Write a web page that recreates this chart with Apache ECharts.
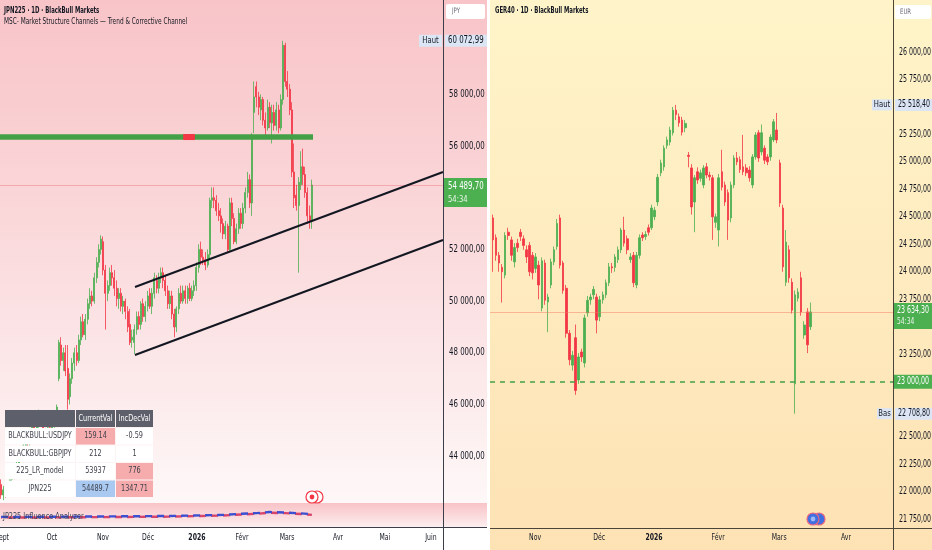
<!DOCTYPE html>
<html><head><meta charset="utf-8">
<script src="https://cdn.jsdelivr.net/npm/echarts@6/dist/echarts.min.js"></script>
<style>html,body{margin:0;padding:0;background:#fff}#c{width:932px;height:550px}</style>
</head><body><div id="c"></div>
<script>
const FONT = '"DejaVu Sans Condensed","DejaVu Sans",sans-serif';

// ---------- axis tick labels ----------
const monthLabelsL = ['Sept','Oct','Nov','Déc','2026','Févr','Mars','Avr','Mai','Juin'];
const monthPosL    = [0.4, 22.9, 45.9, 66.2, 88.2, 108.5, 128.8, 151.8, 172.9, 193.6];
const monthLabelsR = ['Nov','Déc','2026','Févr','Mars','Avr'];
const monthPosR    = [13.8, 34.8, 52.8, 73.8, 93.8, 115.7];
const priceTicksL  = [44000,46000,48000,50000,52000,56000,58000];
const priceTicksR  = [21750,22000,22250,22500,23250,23750,24000,24250,24500,24750,25000,25250,25750,26000];

// ---------- JPN225 daily candles [open, close, low, high] ----------
const jpn = [
[42900,42500,42350,43100],[42500,42700,42300,42850],[42700,42550,42400,42800],[42550,42750,42450,42900],
[42750,43100,42650,43250],[43100,43400,43000,43550],[43400,43300,43100,43600],[43300,43700,43200,43850],
[43700,44100,43600,44250],[44100,44000,43800,44300],[44000,44400,43900,44550],[44400,44700,44300,44850],
[44700,44500,44300,44800],[44500,44900,44400,45100],[44900,45200,44800,45400],[45200,44900,44700,45300],
[44900,45300,44800,45500],[45300,45600,45100,45800],[45600,45400,45200,45700],[45400,45000,44800,45500],
[45000,44800,44600,45100],[44800,45100,44600,45300],[45100,44900,44700,45200],[44900,45200,44800,45400],
[45200,45500,45100,45700],[45500,45900,45400,46000],[47000,48400,46900,48500],[48300,47700,47500,48600],
[47700,48000,47300,48200],[48000,47300,47100,48300],[47400,46200,45800,48300],[46300,47000,46000,47200],
[47000,47600,46800,47800],[47600,48000,47300,48200],[48000,47700,47500,48300],[47700,48500,47600,48700],
[48500,49200,48300,49400],[49200,48700,48600,49500],[48700,49300,48500,49500],[49300,49900,49100,50100],
[49900,50200,49700,50500],[50200,50000,49800,50400],[50000,50900,49900,51100],[50900,51500,50700,51700],
[51500,52000,51300,52200],[52000,52400,51800,52550],[52300,51200,51000,52500],[51200,50300,48900,51400],
[50300,50600,50000,50800],[50600,51100,50400,51300],[51100,50900,50600,51400],[50900,50500,50200,51200],
[50500,50100,49800,50800],[50100,50300,49700,50500],[50300,49800,49600,50500],[49800,50000,49500,50200],
[50000,49600,49300,50100],[49600,49000,48800,49800],[49100,48400,48300,49700],[48500,48600,48200,48900],
[48400,48900,47950,49100],[48900,49400,48700,49600],[49400,49100,48900,49600],[49100,49900,48900,50000],
[49900,49400,49200,50100],[49400,49800,49200,50000],[49800,50200,49600,50400],[50300,49800,49700,50500],
[49800,50300,49500,50500],[50300,50900,50100,51100],[50800,50500,50300,51000],[50500,50900,50300,51100],
[50900,51100,50700,51300],[51100,50800,50500,51300],[50800,50400,50200,51000],[50400,49900,49700,50600],
[49900,50200,49700,50400],[50200,49500,49300,50400],[49500,49000,48600,49700],[49000,49700,48800,49800],
[49700,50300,49500,50500],[50300,50000,49900,50600],[50000,50400,49900,50600],[50400,50100,49900,50600],
[50100,50500,49900,50600],[50500,50100,50000,50700],[50100,50400,50000,50600],[50400,50600,50200,50800],
[50600,51300,50400,51500],[51300,52000,51100,52200],[52000,51700,51400,52300],[51700,51600,51400,52000],
[51600,51400,51200,51900],[51400,51800,51300,52000],[51800,53900,51600,54000],[53900,54000,53600,54400],
[54000,53900,53600,54400],[53900,53500,53300,54100],[53500,53300,53100,53800],[53300,53000,52650,53600],
[53000,52600,52400,53200],[52600,52900,52400,53100],[52900,52000,51900,53000],[52000,53800,51900,54000],
[53800,53200,52900,54000],[53200,52300,52200,53400],[52300,52800,52200,53000],[52800,53400,52600,53600],
[53400,53000,52800,53600],[53000,53600,52800,53800],[53600,54200,53400,54400],[54200,54700,54000,55000],
[54700,53800,53600,54900],[53800,56300,53300,56500],[57300,57900,56500,58500],[58300,57900,57500,58500],
[57900,57500,57200,58100],[57400,57800,57000,58000],[57800,57000,56800,57900],[57000,56700,56400,57300],
[56700,57500,56600,57800],[57500,56900,56700,57700],[56900,57300,56100,57600],[57300,56800,56600,57600],
[56800,57400,56600,57700],[57400,56700,56500,57600],[56700,57800,56600,58000],[57800,59900,57600,60072.99],
[59900,58500,58300,60000],[58500,58200,57900,58900],[58200,57400,57200,58400],[57400,55000,54800,57700],
[55000,54000,53600,56100],[54100,53700,53500,54500],[53700,54600,51100,54800],[54500,55200,54300,55800],
[55200,54900,54500,55900],[54900,54200,54000,55200],[54200,53300,53000,54400],[53300,53100,52800,53700],
[53100,54489.7,52800,54700]
];

// ---------- GER40 daily candles [open, close, low, high] ----------
const ger = [
[24490,24290,24000,24520],[24310,24150,24100,24340],[24150,24080,24000,24180],[24040,24000,23720,24070],
[23970,24330,23940,24360],[24360,24330,24290,24400],[24290,24150,24100,24320],[24090,24220,24040,24260],
[24260,24220,24180,24300],[24360,24320,24280,24390],[24300,24240,24200,24330],[24200,24135,24080,24240],
[24240,24000,23960,24270],[24150,23990,23930,24180],[24030,24135,23990,24170],[24060,23880,23750,24100],
[23670,24100,23640,24130],[24080,23740,23700,24110],[23725,23770,23450,23800],[23880,24090,23850,24120],
[24090,24200,24060,24230],[24230,24440,24200,24480],[24490,24060,24030,24520],[24080,23830,23800,24100],
[23850,23440,23400,23880],[23440,23200,23150,23470],[23150,23240,23100,23280],[23400,22920,22880,23520],
[23015,23225,22980,23260],[23270,23225,23180,23300],[23170,23580,23130,23610],[23625,23740,23590,23780],
[23745,23770,23700,23800],[23790,23840,23750,23870],[23770,23560,23440,23800],[23590,23745,23550,23780],
[23745,23790,23710,23820],[23790,23900,23760,23930],[23900,24045,23870,24080],[24045,24035,23990,24080],
[24040,24135,24000,24160],[24110,24200,24080,24230],[24200,24380,24170,24400],[24380,24260,24230,24500],
[24300,24200,24160,24330],[24110,24135,24080,24170],[24150,23900,23860,24180],[23880,24150,23850,24180],
[24150,24310,24120,24340],[24335,24310,24280,24360],[24320,24340,24290,24370],[24400,24360,24330,24430],
[24400,24580,24380,24610],[24500,24560,24470,24590],[24635,24860,24600,24890],[24900,24990,24870,25020],
[24955,25125,24920,25150],[25150,25200,25120,25230],[25180,25290,25150,25320],[25265,25470,25240,25500],
[25470,25430,25380,25518.4],[25410,25355,25320,25440],[25380,25270,25240,25410],[25310,25350,25270,25380],
[25060,25050,24950,25090],[24945,24590,24520,24980],[24635,24855,24360,24880],[24910,24835,24800,24950],
[24850,24900,24820,24930],[24790,24945,24760,24970],[24955,24880,24850,24990],[24880,24865,24830,24910],
[24855,24500,24290,24880],[24450,24500,24400,24530],[24380,24855,24230,24890],[24910,24770,24740,25110],
[24790,24635,24600,24820],[24720,24470,24290,24750],[24490,24790,24450,24820],[24790,25035,24760,25060],
[25035,25000,24970,25090],[25020,24930,24900,25050],[24955,24910,24880,25245],[24945,24900,24870,24980],
[24925,24855,24820,24960],[24790,25045,24760,25070],[25045,25245,25020,25270],[25265,25035,25000,25290],
[25090,25265,25060,25340],[25125,25015,24980,25150],[25045,25000,24970,25070],[25045,25225,25010,25250],
[25200,25365,25180,25390],[25290,25200,25170,25445],[24990,24625,24590,25020],[24580,24045,24000,24610],
[23905,24270,23870,24380],[24200,23945,23900,24240],[23905,23650,23620,23940],[22980,23790,22708.8,23830],
[23760,23815,23730,23850],[23945,23635,23600,24000],[23425,23515,23390,23550],[23635,23335,23260,23670],
[23500,23634.3,23470,23720]
];

// ---------- drawn levels (data coordinates: [bar, price]) ----------
const channelUpper   = [[60.3, 50546], [199.05, 54997]];
const channelLower   = [[60.3, 47917], [199.05, 52365]];
const structureLine  = [[-0.5, 56350], [140.5, 56350]];
const structureBreak = [[82, 56350], [87.3, 56350]];
const lastJPN = 54489.7, highJPN = 60072.99;
const lastGER = 23634.3, highGER = 25518.4, lowGER = 22708.8, levelGER = 23000;
const countdown = '54:34';

// indicator pane (JP225 Influence Analyzer)
const indBars = [0, 15, 30, 45, 60, 75, 90, 100, 108, 115, 121, 128, 135, 140];
const indBlue = [4.6, 4.6, 4.7, 4.8, 4.9, 5.0, 5.3, 5.5, 6.0, 6.3, 6.8, 6.6, 6.2, 5.8];
const indRed  = [4.3, 4.3, 4.4, 4.5, 4.6, 4.7, 5.0, 5.2, 5.7, 6.0, 6.5, 6.3, 5.9, 5.5];

// table
const tableHeader = ['', 'CurrentVal', 'IncDecVal'];
const tableRows = [
  ['BLACKBULL:USDJPY', '159.14', '-0.59'],
  ['BLACKBULL:GBPJPY', '212', '1'],
  ['225_LR_model', '53937', '776'],
  ['JPN225', '54489.7', '1347.71']
];
const tableFill = [[null,'#f6abad',null],[null,null,null],[null,null,'#f6abad'],[null,'#a9c9f1','#f6abad']];

function fr(v){
  const neg = v < 0;
  const p = Math.abs(v).toFixed(2).split('.');
  return (neg?'-':'') + p[0].replace(/\B(?=(\d{3})+(?!\d))/g, ' ') + ',' + p[1];
}

const chart = echarts.init(document.getElementById('c'), null, {renderer:'canvas'});
const hidden = {axisLine:{show:false}, axisTick:{show:false}, splitLine:{show:false}, axisLabel:{show:false}};
const option = {
  animation:false,
  textStyle:{fontFamily:FONT},
  grid:[
    {left:0, top:0, width:443, height:505, outerBoundsMode:'none', containLabel:false},
    {left:0, top:505, width:443, height:22, outerBoundsMode:'none', containLabel:false},
    {left:490, top:0, width:403, height:527, outerBoundsMode:'none', containLabel:false}
  ],
  xAxis:[
    Object.assign({gridIndex:0, type:'value', min:-0.5, max:199.05}, hidden),
    Object.assign({gridIndex:1, type:'value', min:-0.5, max:199.05}, hidden),
    Object.assign({gridIndex:2, type:'value', min:-0.98, max:131.1}, hidden)
  ],
  yAxis:[
    Object.assign({gridIndex:0, type:'value', position:'right', min:42110, max:61653}, hidden),
    Object.assign({gridIndex:1, type:'value', min:0, max:10}, hidden),
    Object.assign({gridIndex:2, type:'value', position:'right', min:21677.5, max:26473}, hidden)
  ],
  series:[
    {type:'candlestick', xAxisIndex:0, yAxisIndex:0, barWidth:1.5,
     data: jpn.map((r,i)=>[i, r[0], r[1], r[2], r[3]]),
     itemStyle:{color:'#4caf50', color0:'#f23645', borderColor:'#4caf50', borderColor0:'#f23645', borderWidth:0.8},
     markLine:{silent:true, symbol:['none','none'], label:{show:false},
       data:[{yAxis:lastJPN, lineStyle:{color:'rgba(242,54,69,0.28)', width:1, type:'solid'}}]}},
    {type:'line', xAxisIndex:0, yAxisIndex:0, data:structureLine, symbol:'none',
     lineStyle:{color:'#43a047', width:5.5}, z:3},
    {type:'line', xAxisIndex:0, yAxisIndex:0, data:structureBreak, symbol:'none',
     lineStyle:{color:'#f23645', width:6}, z:4},
    {type:'line', xAxisIndex:0, yAxisIndex:0, data:channelUpper, symbol:'none',
     lineStyle:{color:'#131722', width:2}, z:5},
    {type:'line', xAxisIndex:0, yAxisIndex:0, data:channelLower, symbol:'none',
     lineStyle:{color:'#131722', width:2}, z:5},
    {type:'line', xAxisIndex:1, yAxisIndex:1, data:indBars.map((b,i)=>[b, indRed[i]]), symbol:'none',
     lineStyle:{color:'#d9456a', width:2.4, type:[7,5], dashOffset:6}},
    {type:'line', xAxisIndex:1, yAxisIndex:1, data:indBars.map((b,i)=>[b, indBlue[i]]), symbol:'none',
     lineStyle:{color:'#3d4fd1', width:2.4, type:[7,5]}},
    {type:'candlestick', xAxisIndex:2, yAxisIndex:2, barWidth:2.1,
     data: ger.map((r,i)=>[i, r[0], r[1], r[2], r[3]]),
     itemStyle:{color:'#4caf50', color0:'#f23645', borderColor:'#4caf50', borderColor0:'#f23645', borderWidth:0.8},
     markLine:{silent:true, symbol:['none','none'], label:{show:false},
       data:[
         {yAxis:lastGER, lineStyle:{color:'rgba(240,120,90,0.45)', width:1, type:'solid'}},
         {yAxis:levelGER, lineStyle:{color:'#43a047', width:1.5, type:[5,5]}}
       ]}}
  ]
};
chart.setOption(option);

// ---------- overlay graphics ----------
const G = [];
function font(sz, bold){ return (bold?'bold ':'') + sz + 'px ' + FONT; }
function rect(x,y,w,h,fill,z,r){ G.push({type:'rect', shape:{x,y,width:w,height:h,r:r||0}, style:{fill}, z:z===undefined?100:z, silent:true}); }
function text(x,y,t,opt){ opt=opt||{}; G.push({type:'text', x, y, scaleX:opt.sx||0.8, z:opt.z||101, silent:true,
  style:{text:t, x:0, y:0, fill:opt.fill||'#131722', font:font(opt.size||9, opt.bold), align:opt.align||'left', verticalAlign:'middle'}}); }
function line(x1,y1,x2,y2,stroke,w){ G.push({type:'line', z:99, silent:true, shape:{x1,y1,x2,y2}, style:{stroke, lineWidth:w||1}}); }
function lg(stops){ return {type:'linear', x:0, y:0, x2:0, y2:1, colorStops:stops.map(s=>({offset:s[0], color:s[1]}))}; }
function py(grid, v){ return chart.convertToPixel({gridIndex:grid}, [0, v])[1]; }
function pxx(grid, b){ return chart.convertToPixel({gridIndex:grid}, [b, 0])[0]; }

// backgrounds
rect(0,0,487,505, lg([[0,'#f8c4c8'],[0.4,'#fad6d8'],[0.75,'#fce9ea'],[1,'#fef8f8']]), -100);
rect(0,503,487,24, lg([[0,'#f8c3c7'],[1,'#fdeeef']]), -100);
rect(0,527,487,23,'#ffffff',-100);
rect(487,0,3,550,'#ffffff',-100);
rect(490,0,442,550, lg([[0,'#fff4c9'],[0.5,'#feebbf'],[1,'#fde2b4']]), -100);

// axis frame lines
line(443.5,0,443.5,550,'#3b3e48',1);
line(0,527.5,487,527.5,'#3b3e48',1);
line(893.5,0,893.5,550,'#4a4538',1);
line(490,528.5,932,528.5,'#4a4538',1);

// price axis labels (positions from the library's scales)
priceTicksL.forEach(v=>text(449, py(0,v), fr(v), {size:10, sx:0.78}));
priceTicksR.forEach(v=>text(899, py(2,v), fr(v), {size:10, sx:0.7}));
// time axis labels
monthPosL.forEach((b,i)=>text(pxx(1,b), 538, monthLabelsL[i], {size:9.5, sx:0.72, align:'center', bold:monthLabelsL[i]==='2026'}));
monthPosR.forEach((b,i)=>text(pxx(2,b), 538, monthLabelsR[i], {size:9.5, sx:0.72, align:'center', bold:monthLabelsR[i]==='2026'}));

// titles
text(4,11,'JPN225 · 1D · BlackBull Markets',{size:8.5,bold:true,sx:0.7});
text(4,22,'MSC- Market Structure Channels — Trend & Corrective Channel',{size:8.5,sx:0.76});
text(495,11,'GER40 · 1D · BlackBull Markets',{size:8.5,bold:true,sx:0.7});

// currency boxes
rect(446,4,39,15,'#ffffff',100,2);
text(452,11.5,'JPY',{size:7.5,fill:'#6a6d78'});
rect(895,5,36,14,'#ffffff',100,2);
text(900,12,'EUR',{size:7.5,fill:'#6a6d78'});

// JPN225 tags
let y = py(0, highJPN);
rect(419,y-6,23,12,'#dbe5f3'); text(430.5,y,'Haut',{size:9.5,align:'center'});
rect(445,y-6,42,12,'#dbe5f3'); text(448,y,fr(highJPN),{size:10,sx:0.78});
y = py(0, lastJPN);
rect(444,y-7,43,29,'#4caf50'); text(448,y+1,fr(lastJPN),{size:10,fill:'#ffffff',sx:0.78}); text(448,y+14,countdown,{size:9.5,fill:'#e8f5e9'});

// GER40 tags
y = py(2, highGER);
rect(872,y-5.5,20,11,'#dbe5f3'); text(882,y,'Haut',{size:9.5,align:'center'});
rect(895,y-6,37,12,'#dbe5f3'); text(898,y,fr(highGER),{size:10,sx:0.7});
y = py(2, lowGER);
rect(877,y-5.5,15,11,'#dbe5f3'); text(884.5,y,'Bas',{size:9.5,align:'center'});
rect(895,y-6,37,12,'#dbe5f3'); text(898,y,fr(lowGER),{size:10,sx:0.7});
y = py(2, lastGER);
rect(894,y-9,38,26,'#4caf50'); text(897,y-2,fr(lastGER),{size:10,fill:'#ffffff',sx:0.7}); text(897,y+10,countdown,{size:9.5,fill:'#e8f5e9',sx:0.7});
y = py(2, levelGER);
rect(894,y-7,38,14,'#4caf50'); text(897,y,fr(levelGER),{size:10,fill:'#ffffff',sx:0.7});

// indicator pane name
text(3,517,'JP225 Influence Analyzer',{size:8.5,fill:'#3c3f55',sx:0.85});

// table
const colX = [5, 76, 116], colW = [70, 39, 37];
const tY = 410, hH = 17, rH = 17.5;
for (let c=0;c<3;c++){
  rect(colX[c], tY, colW[c], hH, '#5d606b');
  if (tableHeader[c]) text(colX[c]+colW[c]/2, tY+hH/2, tableHeader[c], {size:8.5, fill:'#ffffff', align:'center', sx:0.85});
}
tableRows.forEach((row, r)=>{
  const yy = tY + hH + 1 + r*rH;
  row.forEach((cell, c)=>{
    rect(colX[c], yy, colW[c], rH-1, tableFill[r][c] || '#ffffff');
    text(colX[c]+colW[c]/2, yy+(rH-1)/2, cell, {size:8.5, fill:'#3f424c', align:'center', sx:0.85});
  });
});

// event icons
G.push({type:'circle', z:100, silent:true, shape:{cx:317,cy:497,r:6}, style:{fill:'#ffffff', stroke:'#f23645', lineWidth:1.2}});
G.push({type:'circle', z:100, silent:true, shape:{cx:312,cy:497,r:6}, style:{fill:'#ffffff', stroke:'#f23645', lineWidth:1.2}});
G.push({type:'circle', z:101, silent:true, shape:{cx:312,cy:497,r:2.4}, style:{fill:'#f23645'}});
G.push({type:'circle', z:100, silent:true, shape:{cx:819,cy:519,r:6}, style:{fill:'#3f6fe0', stroke:'#e8667f', lineWidth:1.2}});
G.push({type:'circle', z:100, silent:true, shape:{cx:813,cy:519,r:6}, style:{fill:'#3f6fe0', stroke:'#e8667f', lineWidth:1.2}});
G.push({type:'circle', z:101, silent:true, shape:{cx:813,cy:519,r:2.4}, style:{fill:'#9fb8f5'}});

chart.setOption({graphic:{elements:G}});
</script>
</body></html>
